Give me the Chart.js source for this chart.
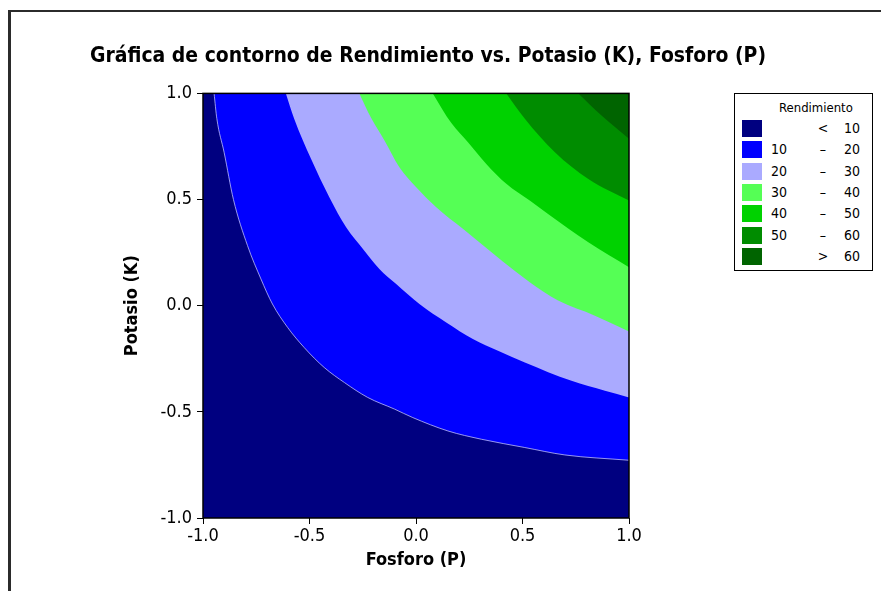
<!DOCTYPE html>
<html>
<head>
<meta charset="utf-8">
<script src="https://cdn.jsdelivr.net/npm/chart.js@4.4.0/dist/chart.umd.min.js"></script>
<style>
  body { margin: 0; background: #fff; }
  #wrap { position: absolute; left: 0; top: 0; width: 881px; height: 591px; overflow: hidden; }
  #frame { position: absolute; left: 8px; top: 10px; width: 900px; height: 600px;
           border-left: 3px solid #2b2b2b; border-top: 2px solid #2b2b2b; }
  canvas { position: absolute; left: 0; top: 0; }
  #legend { position: absolute; left: 734px; top: 93px; width: 137px; height: 176px;
            border: 1px solid #000; background: #fff;
            font-family: 'DejaVu Sans Condensed', 'DejaVu Sans', sans-serif; font-size: 14px; color: #000; }
  #legend div { position: absolute; line-height: 17px; }
</style>
</head>
<body>
<div id="wrap">
  <div id="frame"></div>
  <canvas id="contourChart" width="881" height="591"></canvas>
  <div id="legend"></div>
</div>
<script>
// contour levels and fill colours (lowest band first)
const levels = [10, 20, 30, 40, 50, 60];
const levelColors = ["#000080", "#0000ff", "#aaaaff", "#55ff55", "#00d200", "#008c00", "#006400"];

// boundary curves: Fosforo (x) / Potasio (y)
const b10X = [-0.948, -0.935, -0.901, -0.857, -0.791, -0.728, -0.674, -0.603, -0.525, -0.431, -0.336, -0.227, -0.101, -0.015, 0.150, 0.307, 0.511, 0.699, 1.0];
const b10Y = [1.0, 0.881, 0.723, 0.5, 0.283, 0.126, 0.008, -0.102, -0.197, -0.291, -0.362, -0.432, -0.487, -0.527, -0.590, -0.629, -0.668, -0.703, -0.728];
const b20X = [-0.611, -0.572, -0.493, -0.407, -0.328, -0.250, -0.172, -0.093, 0.016, 0.142, 0.267, 0.385, 0.511, 0.730, 0.887, 1.0];
const b20Y = [1.0, 0.881, 0.692, 0.511, 0.369, 0.268, 0.173, 0.102, 0.008, -0.079, -0.157, -0.212, -0.267, -0.354, -0.401, -0.432];
const b30X = [-0.266, -0.211, -0.148, -0.078, 0.001, 0.095, 0.220, 0.346, 0.472, 0.534, 0.667, 0.840, 1.0];
const b30Y = [1.0, 0.885, 0.778, 0.652, 0.558, 0.464, 0.362, 0.259, 0.157, 0.110, 0.024, -0.047, -0.121];
const b40X = [0.079, 0.166, 0.244, 0.330, 0.424, 0.534, 0.620, 0.809, 1.0];
const b40Y = [1.0, 0.860, 0.770, 0.668, 0.574, 0.495, 0.432, 0.299, 0.181];
const b50X = [0.424, 0.511, 0.652, 0.809, 1.0];
const b50Y = [1.0, 0.881, 0.723, 0.597, 0.495];
const b60X = [0.762, 0.871, 1.0];
const b60Y = [1.0, 0.896, 0.786];

const tickValues = [-1, -0.5, 0, 0.5, 1];
const tickLabels = ["-1.0", "-0.5", "0.0", "0.5", "1.0"];

// legend text columns
const legendLow = ["", "10", "20", "30", "40", "50", ""];
const legendSym = ["<", "\u2013", "\u2013", "\u2013", "\u2013", "\u2013", ">"];
const legendHigh = ["10", "20", "30", "40", "50", "60", "60"];

const FONT = "'DejaVu Sans Condensed', 'DejaVu Sans', sans-serif";
const boundaries = [[b10X, b10Y], [b20X, b20Y], [b30X, b30Y], [b40X, b40Y], [b50X, b50Y], [b60X, b60Y]];

// base band fills the whole square, each level fills everything above its curve
const datasets = [{
  data: [{ x: tickValues[0], y: tickValues[0] }, { x: tickValues[4], y: tickValues[0] }],
  backgroundColor: levelColors[0],
  borderWidth: 0,
  pointRadius: 0,
  fill: "end",
  order: 10,
}];
boundaries.forEach(([xs, ys], i) => {
  datasets.push({
    label: levels[i] + "",
    data: xs.map((x, j) => ({ x: x, y: ys[j] })),
    backgroundColor: levelColors[i + 1],
    borderColor: i === 0 ? "rgba(200,200,255,0.75)" : levelColors[i + 1],
    borderWidth: i === 0 ? 1 : 0,
    pointRadius: 0,
    cubicInterpolationMode: "monotone",
    fill: "end",
    order: 9 - i,
  });
});

const setTicks = (scale) => { scale.ticks = tickValues.map(v => ({ value: v })); };
const tickLabel = (v) => tickLabels[tickValues.indexOf(v)];

// plain frame round the plot area
const frame = {
  id: "frame",
  afterDatasetsDraw(chart) {
    const { ctx, chartArea: a } = chart;
    ctx.save();
    ctx.strokeStyle = "#000";
    ctx.lineWidth = 1.5;
    ctx.strokeRect(a.left, a.top, a.right - a.left, a.bottom - a.top);
    ctx.restore();
  },
};

const contourChart = new Chart(document.getElementById("contourChart"), {
  type: "line",
  data: { datasets: datasets },
  plugins: [frame],
  options: {
    responsive: false,
    animation: false,
    layout: { padding: { left: 90, right: 115, top: 0, bottom: 0 } },
    plugins: {
      legend: { display: false },
      tooltip: { enabled: false },
      title: {
        display: true,
        text: "Gráfica de contorno de Rendimiento vs. Potasio (K), Fosforo (P)",
        color: "#000",
        font: { family: FONT, size: 22, weight: "bold" },
        padding: { top: 43, bottom: 24 },
      },
    },
    scales: {
      x: {
        type: "linear",
        min: -1, max: 1,
        afterBuildTicks: setTicks,
        afterFit: (s) => { s.height = 73; },
        ticks: { callback: tickLabel, color: "#000", font: { family: FONT, size: 18 }, padding: 2, maxRotation: 0 },
        grid: { drawOnChartArea: false, drawTicks: true, tickLength: 6, color: "#000" },
        border: { display: false },
        title: { display: true, text: "Fosforo (P)", color: "#000", font: { family: FONT, size: 18, weight: "bold" }, padding: { bottom: 20 } },
      },
      y: {
        type: "linear",
        min: -1, max: 1,
        afterBuildTicks: setTicks,
        afterFit: (s) => { s.width = 113; },
        ticks: { callback: tickLabel, color: "#000", font: { family: FONT, size: 18 }, padding: 5 },
        grid: { drawOnChartArea: false, drawTicks: true, tickLength: 6, color: "#000" },
        border: { display: false },
        title: { display: true, text: "Potasio (K)", color: "#000", font: { family: FONT, size: 18, weight: "bold" }, padding: { top: 32 } },
      },
      yRight: {
        type: "linear",
        position: "right",
        min: -1, max: 1,
        afterFit: (s) => { s.width = 137; },
        ticks: { display: false },
        grid: { display: false },
        border: { display: false },
      },
    },
  },
});

// legend box built from the same levels / colours
const legend = document.getElementById("legend");
const addText = (text, style) => {
  const d = document.createElement("div");
  d.textContent = text;
  Object.assign(d.style, style);
  legend.appendChild(d);
};
addText("Rendimiento", { left: "44px", top: "5px", fontSize: "13px" });
levelColors.forEach((c, i) => {
  const top = 26 + i * 21.3;
  const sw = document.createElement("div");
  Object.assign(sw.style, { left: "7px", top: top + "px", width: "20px", height: "17px", background: c });
  legend.appendChild(sw);
  addText(legendLow[i], { left: "36px", top: top + "px" });
  addText(legendSym[i], { left: "82px", top: top + "px", width: "12px", textAlign: "center" });
  addText(legendHigh[i], { right: "12px", top: top + "px" });
});
</script>
</body>
</html>
